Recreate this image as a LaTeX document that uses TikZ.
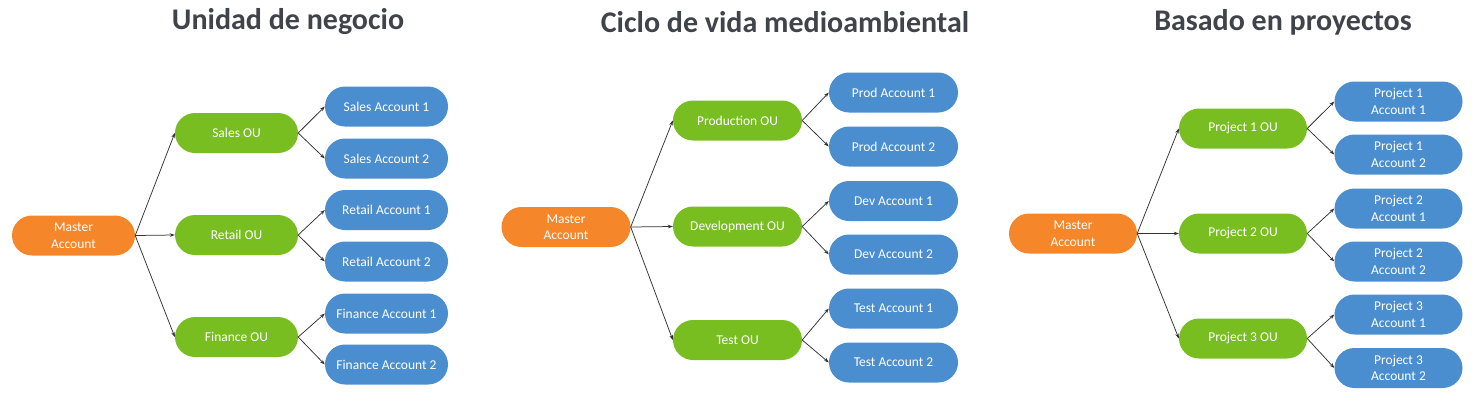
\documentclass[tikz,border=0pt]{standalone}
\usepackage{fontspec}
\setmainfont{Carlito}
\usetikzlibrary{arrows.meta}
\definecolor{orangeC}{HTML}{F5862A}
\definecolor{greenC}{HTML}{78BE21}
\definecolor{blueC}{HTML}{4A8ECF}
\definecolor{titleC}{HTML}{40444A}
\definecolor{lineC}{HTML}{333333}
\tikzset{
  pill/.style={rounded corners=20pt, inner sep=0pt, align=center, text=white,
    font=\fontsize{13.5}{16.5}\selectfont, minimum height=40pt},
  master/.style={pill, fill=orangeC},
  ou/.style={pill, fill=greenC},
  acct/.style={pill, fill=blueC},
  conn/.style={draw=lineC, line width=0.75pt, -{Stealth[length=5pt,width=3.6pt]}},
  ttl/.style={text=titleC, font=\fontsize{30}{36}\selectfont\bfseries, inner sep=0pt}
}
\begin{document}
\begin{tikzpicture}[x=1pt,y=-1pt]
\useasboundingbox (0,0) rectangle (1477,410);
% titles
\node[ttl] (t1) at (288,22) {Unidad de negocio};
\node[ttl] (t2) at (785,22) {Ciclo de vida medioambiental};
\node[ttl] (t3) at (1283,22) {Basado en proyectos};

% panel 1
\begin{scope}[every node/.append style={minimum width=123pt, minimum height=39pt}]
\node[master] (m1) at (73.5,235.5) {Master\\Account};
\node[ou] (s) at (236.5,133) {Sales OU};
\node[ou] (r) at (236.5,235) {Retail OU};
\node[ou] (f) at (236.5,337) {Finance OU};
\node[acct] (s1) at (386.5,106.5) {Sales Account 1};
\node[acct] (s2) at (386.5,158.5) {Sales Account 2};
\node[acct] (r1) at (386.5,210) {Retail Account 1};
\node[acct] (r2) at (386.5,261.5) {Retail Account 2};
\node[acct] (f1) at (386.5,313.5) {Finance Account 1};
\node[acct] (f2) at (386.5,364.5) {Finance Account 2};
\end{scope}
\foreach \o in {s,r,f} \draw[conn] (m1.east) -- (\o.west);
\foreach \o in {s,r,f} {\draw[conn] (\o.east) -- (\o1.west); \draw[conn] (\o.east) -- (\o2.west);}

% panel 2
\begin{scope}[every node/.append style={minimum width=129pt, minimum height=41pt}]
\node[master] (m2) at (566,227) {Master\\Account};
\node[ou] (p) at (737.5,120.5) {Production OU};
\node[ou] (d) at (737.5,226.5) {Development OU};
\node[ou] (t) at (737.5,340) {Test OU};
\node[acct] (p1) at (893.5,92.5) {Prod Account 1};
\node[acct] (p2) at (893.5,146.5) {Prod Account 2};
\node[acct] (d1) at (893.5,201) {Dev Account 1};
\node[acct] (d2) at (893.5,254.5) {Dev Account 2};
\node[acct] (t1a) at (893.5,308.5) {Test Account 1};
\node[acct] (t2a) at (893.5,362.5) {Test Account 2};
\end{scope}
\foreach \o in {p,d,t} \draw[conn] (m2.east) -- (\o.west);
\foreach \o in {p,d} {\draw[conn] (\o.east) -- (\o1.west); \draw[conn] (\o.east) -- (\o2.west);}
\draw[conn] (t.east) -- (t1a.west);
\draw[conn] (t.east) -- (t2a.west);

% panel 3
\begin{scope}[every node/.append style={minimum width=128pt, minimum height=41pt}]
\node[master] (m3) at (1073,233.5) {Master\\Account};
\node[ou] (q1) at (1243,128.5) {Project 1 OU};
\node[ou] (q2) at (1243,233.5) {Project 2 OU};
\node[ou] (q3) at (1243,338.5) {Project 3 OU};
\node[acct] (q1a) at (1398.5,101.5) {Project 1\\Account 1};
\node[acct] (q1b) at (1398.5,154.5) {Project 1\\Account 2};
\node[acct] (q2a) at (1398.5,208.5) {Project 2\\Account 1};
\node[acct] (q2b) at (1398.5,261.5) {Project 2\\Account 2};
\node[acct] (q3a) at (1398.5,314.5) {Project 3\\Account 1};
\node[acct] (q3b) at (1398.5,368) {Project 3\\Account 2};
\end{scope}
\foreach \o in {q1,q2,q3} {\draw[conn] (m3.east) -- (\o.west); \draw[conn] (\o.east) -- (\o a.west); \draw[conn] (\o.east) -- (\o b.west);}
\end{tikzpicture}
\end{document}
